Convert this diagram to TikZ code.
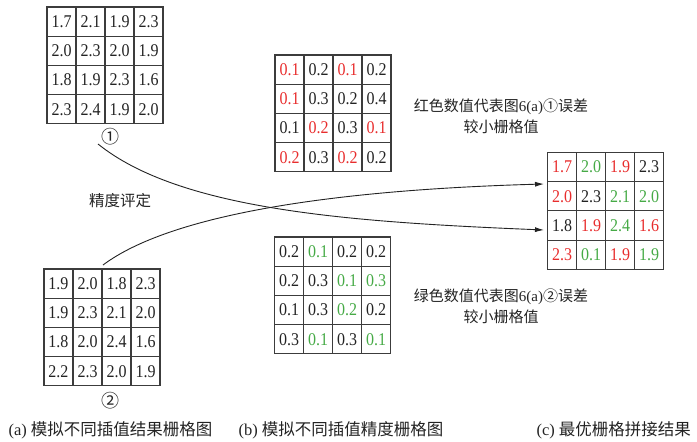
\documentclass[tikz,border=0pt]{standalone}
\usepackage{fontspec}
\setmainfont{Liberation Serif}
\newfontfamily\cjk{Noto Sans CJK SC}
\usetikzlibrary{arrows.meta}
\definecolor{cR}{RGB}{232,45,45}
\definecolor{cG}{RGB}{70,170,70}
\definecolor{cK}{RGB}{35,35,35}
\definecolor{gridc}{RGB}{60,60,60}
\tikzset{
  cell/.style={draw=gridc, line width=1.1pt, minimum width=29pt, minimum height=29.2pt,
    inner sep=0pt, font=\fontsize{16}{18}\selectfont},
  flow/.style={line width=0.9pt, draw=cK, -{Latex[length=9pt,width=5pt]}},
  note/.style={font=\fontsize{15}{21}\selectfont, align=center, text=cK},
  captext/.style={font=\fontsize{16.5}{20}\selectfont, anchor=west, text=cK},
  circ/.style={font=\cjk\fontsize{18}{20}\selectfont, text=cK}
}
\newcommand\cellgrid[4]{%
  \foreach \rowlist [count=\i] in {#4} {
    \foreach \v/\col [count=\j] in \rowlist {
      \node[cell, text=\col] (#1-\i-\j) at ({#2+(\j-0.5)*29},{#3+(\i-0.5)*29.2})
        {\scalebox{1}[1.12]{\v}};
    }
  }%
}
\begin{document}
\begin{tikzpicture}[x=1pt,y=-1pt]
\useasboundingbox (0,0) rectangle (697,442);
% (a) grids
\cellgrid{ga}{47}{7}{{1.7/cK,2.1/cK,1.9/cK,2.3/cK},{2.0/cK,2.3/cK,2.0/cK,1.9/cK},{1.8/cK,1.9/cK,2.3/cK,1.6/cK},{2.3/cK,2.4/cK,1.9/cK,2.0/cK}}
\cellgrid{gb}{44}{269}{{1.9/cK,2.0/cK,1.8/cK,2.3/cK},{1.9/cK,2.3/cK,2.1/cK,2.0/cK},{1.8/cK,2.0/cK,2.4/cK,1.6/cK},{2.2/cK,2.3/cK,2.0/cK,1.9/cK}}
% (b) grids
\cellgrid{gc}{275}{55}{{0.1/cR,0.2/cK,0.1/cR,0.2/cK},{0.1/cR,0.3/cK,0.2/cK,0.4/cK},{0.1/cK,0.2/cR,0.3/cK,0.1/cR},{0.2/cR,0.3/cK,0.2/cR,0.2/cK}}
\cellgrid{gd}{274.5}{237}{{0.2/cK,0.1/cG,0.2/cK,0.2/cK},{0.2/cK,0.3/cK,0.1/cG,0.3/cG},{0.1/cK,0.3/cK,0.2/cG,0.2/cK},{0.3/cK,0.1/cG,0.3/cK,0.1/cG}}
% (c) grid
\cellgrid{ge}{547.5}{152.5}{{1.7/cR,2.0/cG,1.9/cR,2.3/cK},{2.0/cR,2.3/cK,2.1/cG,2.0/cG},{1.8/cK,1.9/cR,2.4/cG,1.6/cR},{2.3/cR,0.1/cG,1.9/cR,1.9/cG}}
% circled numbers
\node[circ] (n1) at (110,137) {①};
\node[circ] (n2) at (110,401) {②};
% labels
\node[font=\cjk\fontsize{15.5}{18}\selectfont, text=cK] (acc) at (120,201) {精度评定};
\node[note] (lr) at (501,116) {{\cjk 红色数值代表图}6(a){\cjk ①误差}\\{\cjk 较小栅格值}};
\node[note] (lg) at (501,306) {{\cjk 绿色数值代表图}6(a){\cjk ②误差}\\{\cjk 较小栅格值}};
% connectors
\coordinate (s1) at (98,144);
\coordinate (s2) at (103,265);
\coordinate (t1) at (544,230);
\coordinate (t2) at (544,184);
\draw[flow] (s1) .. controls (180,210) and (350,222) .. (t1);
\draw[flow] (s2) .. controls (170,215) and (330,190) .. (t2);
% captions
\node[captext] (ca) at (5,430) {(a) {\cjk 模拟不同插值结果栅格图}};
\node[captext] (cb) at (235,430) {(b) {\cjk 模拟不同插值精度栅格图}};
\node[captext] (cc) at (533,430) {(c) {\cjk 最优栅格拼接结果}};
\end{tikzpicture}
\end{document}
